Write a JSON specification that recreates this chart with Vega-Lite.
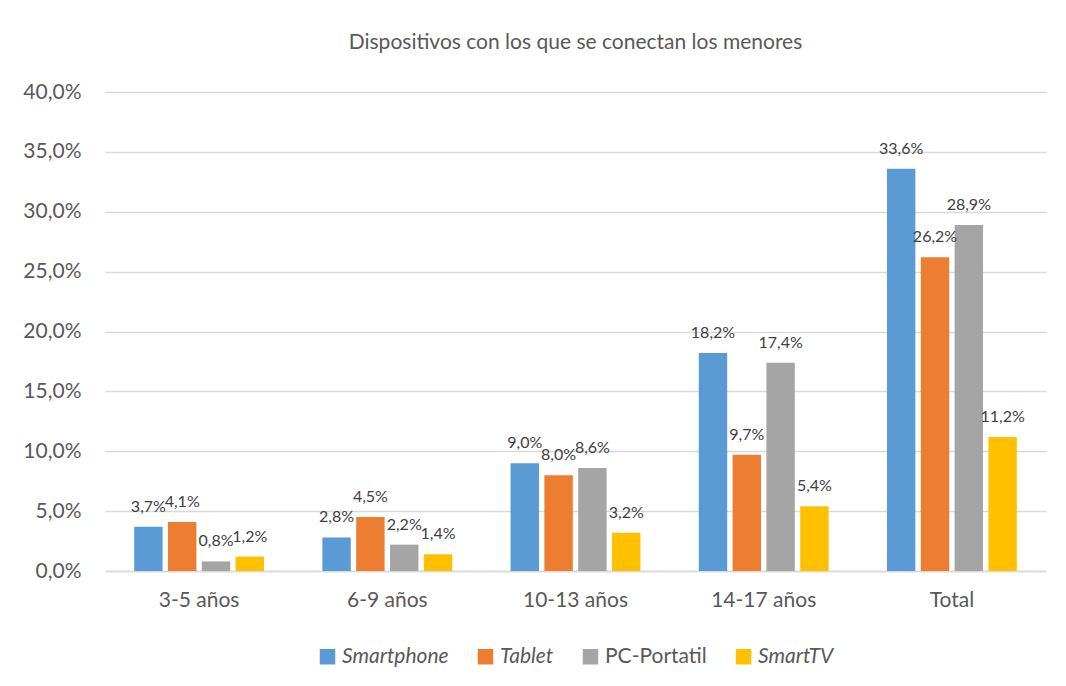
{
  "$schema": "https://vega.github.io/schema/vega-lite/v6.json",
  "width": 1066,
  "height": 686,
  "autosize": {"type": "fit", "contains": "padding"},
  "padding": {"left": 22, "top": 32, "right": 20, "bottom": 19},
  "background": "white",
  "config": {
    "locale": {"number": {"decimal": ",", "thousands": ".", "grouping": [3], "currency": ["", " €"]}},
    "font": "Lato",
    "view": {"stroke": null},
    "legend": {"layout": {"bottom": {"anchor": "middle"}}},
    "title": {"fontSize": 21, "fontWeight": "normal", "color": "#595959", "font": "Lato", "offset": 28}
  },
  "title": {"text": "Dispositivos con los que se conectan los menores", "anchor": "middle"},
  "data": {
    "values": [
      {"grupo": "3-5 años", "dispositivo": "Smartphone", "valor": 0.037},
      {"grupo": "3-5 años", "dispositivo": "Tablet", "valor": 0.041},
      {"grupo": "3-5 años", "dispositivo": "PC-Portatil", "valor": 0.008},
      {"grupo": "3-5 años", "dispositivo": "SmartTV", "valor": 0.012},
      {"grupo": "6-9 años", "dispositivo": "Smartphone", "valor": 0.028},
      {"grupo": "6-9 años", "dispositivo": "Tablet", "valor": 0.045},
      {"grupo": "6-9 años", "dispositivo": "PC-Portatil", "valor": 0.022},
      {"grupo": "6-9 años", "dispositivo": "SmartTV", "valor": 0.014},
      {"grupo": "10-13 años", "dispositivo": "Smartphone", "valor": 0.090},
      {"grupo": "10-13 años", "dispositivo": "Tablet", "valor": 0.080},
      {"grupo": "10-13 años", "dispositivo": "PC-Portatil", "valor": 0.086},
      {"grupo": "10-13 años", "dispositivo": "SmartTV", "valor": 0.032},
      {"grupo": "14-17 años", "dispositivo": "Smartphone", "valor": 0.182},
      {"grupo": "14-17 años", "dispositivo": "Tablet", "valor": 0.097},
      {"grupo": "14-17 años", "dispositivo": "PC-Portatil", "valor": 0.174},
      {"grupo": "14-17 años", "dispositivo": "SmartTV", "valor": 0.054},
      {"grupo": "Total", "dispositivo": "Smartphone", "valor": 0.336},
      {"grupo": "Total", "dispositivo": "Tablet", "valor": 0.262},
      {"grupo": "Total", "dispositivo": "PC-Portatil", "valor": 0.289},
      {"grupo": "Total", "dispositivo": "SmartTV", "valor": 0.112}
    ]
  },
  "encoding": {
    "x": {
      "field": "grupo", "type": "nominal",
      "sort": ["3-5 años", "6-9 años", "10-13 años", "14-17 años", "Total"],
      "scale": {"paddingInner": 0.31, "paddingOuter": 0.155},
      "axis": {"title": null, "labelAngle": 0, "labelFontSize": 21, "labelColor": "#595959", "labelPadding": 18, "ticks": false, "domainColor": "#d9d9d9", "domainWidth": 1.5}
    },
    "xOffset": {
      "field": "dispositivo", "type": "nominal",
      "sort": ["Smartphone", "Tablet", "PC-Portatil", "SmartTV"],
      "scale": {"paddingInner": 0.16}
    },
    "y": {
      "field": "valor", "type": "quantitative",
      "scale": {"domain": [0, 0.4]},
      "axis": {"title": null, "format": ".1%", "values": [0, 0.05, 0.1, 0.15, 0.2, 0.25, 0.3, 0.35, 0.4], "labelFontSize": 21, "labelColor": "#595959", "labelPadding": 24, "ticks": false, "domain": false, "gridColor": "#d9d9d9", "gridWidth": 1.5}
    }
  },
  "layer": [
    {
      "mark": {"type": "bar"},
      "encoding": {
        "color": {
          "field": "dispositivo", "type": "nominal",
          "sort": ["Smartphone", "Tablet", "PC-Portatil", "SmartTV"],
          "scale": {"domain": ["Smartphone", "Tablet", "PC-Portatil", "SmartTV"], "range": ["#5B9BD5", "#ED7D31", "#A5A5A5", "#FFC000"]},
          "legend": {
            "title": null, "orient": "bottom", "direction": "horizontal",
            "symbolType": "square", "symbolSize": 240, "symbolStrokeWidth": 0,
            "labelFontSize": 21, "labelColor": "#595959", "columnPadding": 26, "offset": 36,
            "encode": {"labels": {"update": {"fontStyle": {"signal": "datum.value === 'PC-Portatil' ? 'normal' : 'italic'"}}}}
          }
        }
      }
    },
    {
      "mark": {"type": "text", "baseline": "bottom", "dy": -12, "fontSize": 16, "color": "#404040"},
      "encoding": {
        "text": {"field": "valor", "type": "quantitative", "format": ".1%"}
      }
    }
  ]
}
